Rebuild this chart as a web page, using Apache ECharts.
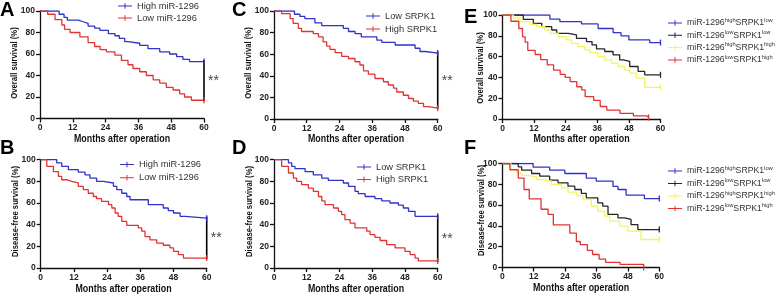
<!DOCTYPE html>
<html>
<head>
<meta charset="utf-8">
<script src="https://cdn.jsdelivr.net/npm/echarts@6/dist/echarts.min.js"></script>
<style>
html, body { margin: 0; padding: 0; background: #fff; }
#chart { width: 778px; height: 296px; }
</style>
</head>
<body>
<div id="chart"></div>
<script>
// axis ticks
const xTicks = [0, 12, 24, 36, 48, 60]
const yTicks = [0, 20, 40, 60, 80, 100]

// A: overall survival, miR-1296
const aHighT = [0, 7, 8.8, 10, 14, 15.8, 17.6, 20, 21.9, 25, 27.4, 29, 31, 32.2, 36.5, 39.5, 43.8, 47.4, 50, 52.3, 54.7, 60]
const aHighS = [100, 97, 94, 91.5, 90, 88.5, 86, 84, 82, 79, 77, 74.5, 71.5, 70, 68, 65, 62, 60, 57.5, 55, 53, 53]
const aLowT = [0, 2.8, 5.5, 8, 9, 11, 14.6, 17.6, 20, 22, 24.3, 27.4, 29.8, 32.2, 34, 36.5, 38.9, 41.4, 43.8, 46.2, 48.7, 51.1, 52.9, 55.4, 60]
const aLowS = [100, 97, 92, 87, 83, 80, 76, 70.5, 67, 64, 62, 59, 54, 50, 46.5, 43.5, 40, 36, 33, 29, 26.5, 23, 20, 17, 17]

// B: disease-free survival, miR-1296
const bHighT = [0, 5.8, 7.6, 10, 13.6, 16, 17.8, 20.2, 22.7, 26.3, 27.5, 29.3, 31.1, 32.3, 38.9, 44.3, 46.1, 48, 50.4, 52.2, 60]
const bHighS = [100, 97, 93.8, 90.8, 88.6, 86, 83, 80, 78.5, 75.4, 72.3, 69, 66, 63, 58.5, 55.4, 53, 50.8, 47.7, 46, 46]
const bLowT = [0, 2.2, 4.6, 6.4, 7.6, 9.4, 11.2, 13.6, 15.4, 17.2, 19, 20.2, 22, 24.5, 25.7, 26.9, 28, 29.3, 31.1, 35.3, 36.5, 37.7, 39.5, 41.9, 44.3, 46.7, 48, 49.8, 51.6, 60]
const bLowS = [100, 93.8, 89, 84.6, 81.5, 80, 78.5, 75.4, 72.3, 69, 66, 64, 61.5, 58.5, 55.4, 50.8, 47.7, 43, 39.4, 37, 34, 29, 26, 23, 21, 18.5, 15.4, 12.3, 9.2, 9.2]

// C: overall survival, SRPK1
const cLowT = [0, 7.5, 9.5, 11.3, 15, 17.5, 25.4, 27.3, 29.7, 32, 37.7, 39.5, 44.4, 51.7, 53.5, 55.4, 60]
const cLowS = [100, 97, 95, 93, 89, 86.5, 84, 81, 79, 76, 73, 71, 68.5, 65.5, 62.5, 61, 61]
const cHighT = [0, 2.8, 5.9, 7, 8.9, 10.1, 14.4, 16.3, 18, 19.3, 20.5, 22.4, 24.8, 27.3, 29.7, 31.5, 32.8, 34.6, 37, 40.1, 41.9, 43.8, 45, 47.4, 49.3, 51.1, 52.9, 54.8, 56.6, 60]
const cHighS = [100, 97.5, 93, 88.5, 84, 81, 79, 76, 71.5, 67.5, 64.5, 61.5, 58, 56, 53, 50, 44.5, 41.5, 37.5, 34.5, 31.5, 28.5, 25, 22, 19, 16.5, 14.5, 11.5, 10, 10]

// D: disease-free survival, SRPK1
const dLowT = [0, 5.3, 6.5, 7.7, 11.4, 14.4, 17.5, 19.9, 25.4, 27.3, 29.7, 30.9, 33.4, 37, 39.5, 42.5, 45.6, 47.4, 49.3, 51.7, 60]
const dLowS = [100, 97, 93.8, 91.7, 89, 86, 83, 81, 78.5, 75.4, 70.8, 68.6, 66, 64, 62, 60, 58, 55.4, 52.3, 47.7, 47.7]
const dHighT = [0, 2.8, 5.3, 7.1, 8.3, 10.1, 12.6, 14.4, 16.3, 17.5, 18.7, 21.8, 23.6, 24.8, 26, 27.9, 29.7, 34, 35.2, 37, 38.9, 41.3, 44.4, 48, 49.9, 51.7, 52.9, 60]
const dHighS = [100, 93.8, 87.7, 83, 80, 77, 73.8, 70.8, 66, 62, 58.5, 55.4, 52.3, 49.2, 44.6, 41.5, 37, 34, 30.8, 28.3, 25.4, 21.5, 18.5, 15.4, 12.3, 9.2, 6.5, 6.5]

// E: overall survival, combined groups
const eHLT = [0, 18, 21.8, 30, 36.3, 42, 45, 48, 55.9, 60]
const eHLS = [100, 96, 93.6, 91.4, 87, 83, 80, 76, 73.5, 73.5]
const eLLT = [0, 7.9, 11.7, 14.9, 18.7, 20.6, 25, 28.1, 31.9, 34, 35.7, 38.8, 42, 44.5, 45.8, 48.3, 51.5, 54, 60]
const eLLS = [100, 95.8, 92, 88.8, 85.6, 82.4, 80.8, 77.6, 74.4, 71.2, 67.4, 64.9, 61.7, 56.9, 55.3, 50.5, 45.7, 42.5, 42.5]
const eHHT = [0, 4.2, 6.7, 10.5, 13, 16.1, 18, 21.2, 24.3, 26.2, 28.8, 31.3, 33.2, 36.3, 38.8, 41.4, 43.9, 46.4, 48.3, 50.8, 54, 60]
const eHHS = [100, 96.8, 93.6, 91, 88.8, 85.6, 82.4, 79.2, 76, 72.8, 69.6, 66.5, 63.9, 60, 56.9, 53.7, 50.5, 47.3, 44.1, 39.3, 30.4, 30.4]
const eLHT = [0, 3.2, 6.2, 7.6, 8.6, 9.6, 12.4, 14.5, 17, 19.4, 21.9, 23.8, 25.7, 28.2, 30.1, 31.4, 34.6, 37.1, 39.6, 44.6, 49.7, 54.8, 55.5]
const eLHS = [100, 94, 87, 79, 74, 66, 62, 57, 52, 47, 43, 40, 36, 31, 28, 21.5, 18, 12, 8.5, 5.5, 3, 1.5, 1.5]

// F: disease-free survival, combined groups
const fHLT = [0, 11.8, 18.1, 23.9, 32.1, 35.9, 42.3, 44.2, 47.3, 54.3, 60]
const fHLS = [100, 96.5, 93.6, 90.4, 86, 83, 78, 75, 69.6, 66.3, 66.3]
const fLLT = [0, 6.1, 7.4, 11.2, 14.3, 18.1, 21.3, 25.1, 27.7, 30.2, 32.1, 36.5, 38.4, 40.4, 44.2, 46.7, 49.2, 51.8, 60]
const fLLS = [100, 96.8, 93.6, 90.4, 87.8, 84, 81.4, 78.2, 75, 71.2, 67, 62.2, 59, 51, 47.8, 46.2, 41.3, 36.5, 36.5]
const fHHT = [0, 3.3, 5.5, 7.4, 9.9, 13.1, 15.6, 18.8, 22.6, 25.1, 28.3, 30.8, 34, 36.5, 39.1, 41, 44.8, 48, 53, 60]
const fHHS = [100, 94.2, 91, 88.5, 87.2, 84.6, 83, 79.8, 76.6, 72.4, 69.2, 65.4, 59, 54.2, 49.4, 44.6, 39.7, 34.9, 26.9, 26.9]
const fLHT = [0, 2.9, 6.1, 8.3, 10.3, 14.8, 17.5, 19.5, 25.8, 28.3, 29.8, 32.5, 34.5, 37, 39.5, 45, 54]
const fLHS = [100, 94, 86, 75, 66, 56, 51, 41, 33, 25, 22, 16.5, 12.5, 8, 5, 3, 0]

// series names
const miNames = ['High miR-1296', 'Low miR-1296']
const srNames = ['Low SRPK1', 'High SRPK1']
const comboNames = ['miR-1296highSRPK1low', 'miR-1296lowSRPK1low', 'miR-1296highSRPK1high', 'miR-1296lowSRPK1high']

const BLUE = '#3232c8'
const RED = '#e03434'
const YELLOW = '#f4f45c'
const BLACK = '#262626'
const FONT = '"Liberation Sans", Arial, sans-serif'
const TICK = 'path://M0,0h1v6h-1z'
const LEGEND_ICON = 'path://M0,3.3h20v1.4h-20zM9.3,0h1.4v8h-1.4z'
const X_TITLE = 'Months after operation'

// xt: centre of the x title; yn: centre of the y title
const panels = [
 { letter: 'A', lx: 0, ly: 0, grid: { left: 40, top: 11, width: 164, height: 107.5 }, yName: 'Overall survival (%)',
  yn: [14.5, 63], xt: [122, 139.5],
  lines: [[miNames[0], aHighT, aHighS, BLUE], [miNames[1], aLowT, aLowS, RED]], sig: true, legend: { left: 118, top: 0, gap: 0 } },
 { letter: 'C', lx: 232, ly: 0, grid: { left: 274, top: 11, width: 163.7, height: 108 }, yName: 'Overall survival (%)',
  yn: [248.5, 63], xt: [356, 139.5],
  lines: [[srNames[0], cLowT, cLowS, BLUE], [srNames[1], cHighT, cHighS, RED]], sig: true, legend: { left: 366, top: 10, gap: 1 } },
 { letter: 'E', lx: 464, ly: 7, grid: { left: 502.5, top: 15, width: 158, height: 104 }, yName: 'Overall survival (%)',
  yn: [480, 68], xt: [581.5, 139],
  lines: [[comboNames[0], eHLT, eHLS, BLUE], [comboNames[1], eLLT, eLLS, BLACK], [comboNames[2], eHHT, eHHS, YELLOW], [comboNames[3], eLHT, eLHS, RED]],
  sig: false, legend: { left: 668, top: 17, gap: 0.3 } },
 { letter: 'B', lx: 0, ly: 138, grid: { left: 40.7, top: 159.7, width: 166, height: 108.3 }, yName: 'Disease-free survival (%)',
  yn: [15.5, 211.5], xt: [123.5, 289.5],
  lines: [[miNames[0], bHighT, bHighS, BLUE], [miNames[1], bLowT, bLowS, RED]], sig: true, legend: { left: 120, top: 158.5, gap: 1.3 } },
 { letter: 'D', lx: 232, ly: 138, grid: { left: 274, top: 159.7, width: 163.7, height: 108.3 }, yName: 'Disease-free survival (%)',
  yn: [249, 211.5], xt: [356, 289.5],
  lines: [[srNames[0], dLowT, dLowS, BLUE], [srNames[1], dHighT, dHighS, RED]], sig: true, legend: { left: 357, top: 161, gap: 0.4 } },
 { letter: 'F', lx: 464, ly: 138, grid: { left: 502.3, top: 163.5, width: 157, height: 104 }, yName: 'Disease-free survival (%)',
  yn: [481, 210.5], xt: [581, 288.5],
  lines: [[comboNames[0], fHLT, fHLS, BLUE], [comboNames[1], fLLT, fLLS, BLACK], [comboNames[2], fHHT, fHHS, YELLOW], [comboNames[3], fLHT, fLHS, RED]],
  sig: false, legend: { left: 668, top: 165, gap: 0.5 } }
]

const toPoints = (t, s) => t.map((x, i) => {
 if (i === t.length - 1) return { value: [x, s[i]], symbol: TICK, symbolSize: [1.3, 6] }
 return [x, s[i]]
})

const grid = [], xAxis = [], yAxis = [], series = [], legend = [], graphic = []
panels.forEach((p, i) => {
 grid.push(p.grid)
 const axisCommon = {
  gridIndex: i,
  type: 'value',
  axisLine: { show: true, onZero: false, lineStyle: { color: '#111', width: 1.3 } },
  axisTick: { show: true, length: 4, lineStyle: { color: '#111', width: 1.3 } },
  axisLabel: { fontFamily: FONT, fontWeight: 'bold', fontSize: 8.5, color: '#222', margin: 5 },
  splitLine: { show: false }
 }
 xAxis.push({ ...axisCommon, min: xTicks[0], max: xTicks[xTicks.length - 1], interval: xTicks[1] - xTicks[0] })
 yAxis.push({ ...axisCommon, min: yTicks[0], max: yTicks[yTicks.length - 1], interval: yTicks[1] - yTicks[0] })

 p.lines.forEach(([name, t, s, color]) => {
  series.push({
   name, type: 'line', step: 'end', xAxisIndex: i, yAxisIndex: i,
   data: toPoints(t, s), symbol: 'none', color,
   lineStyle: { color, width: 1.3 }, silent: true, animation: false
  })
 })

 if (p.sig) {
  const top = p.lines[0][2][p.lines[0][2].length - 1]
  const bottom = p.lines[1][2][p.lines[1][2].length - 1]
  const xEnd = xTicks[xTicks.length - 1]
  series.push({
   type: 'line', xAxisIndex: i, yAxisIndex: i, clip: false, symbol: 'none',
   data: [[xEnd, top + 1.5], [xEnd, bottom - 1]], lineStyle: { color: '#000', width: 1.6 },
   silent: true, animation: false
  })
  series.push({
   type: 'scatter', xAxisIndex: i, yAxisIndex: i, clip: false, symbolSize: 0,
   data: [[xEnd, (top + bottom) / 2]],
   label: { show: true, formatter: '**', position: 'right', distance: 4, fontFamily: FONT, fontSize: 14, color: '#111' },
   silent: true, animation: false
  })
 }

 const combo = p.lines.length > 2
 legend.push({
  orient: 'vertical', left: p.legend.left, top: p.legend.top, itemGap: p.legend.gap,
  data: p.lines.map(l => l[0]), icon: LEGEND_ICON, itemWidth: 14, itemHeight: 7,
  selectedMode: false, padding: 0,
  formatter: combo ? (n => n.replace(/^miR-1296(high|low)SRPK1(high|low)$/, 'miR-1296{sup|$1}SRPK1{sup|$2}')) : (n => n),
  textStyle: {
   fontFamily: FONT, fontSize: combo ? 8.7 : 9.3, color: '#333', lineHeight: 12,
   rich: { sup: { fontFamily: FONT, fontSize: 5.8, color: '#333', verticalAlign: 'top', lineHeight: 6 } }
  }
 })

 // panel letter and axis titles (condensed like the original figure)
 graphic.push({
  type: 'text', left: p.lx, top: p.ly,
  style: { text: p.letter, font: 'bold 20px ' + FONT, fill: '#000' }
 })
 graphic.push({
  type: 'text', x: p.xt[0], y: p.xt[1], scaleX: 0.83,
  style: { text: X_TITLE, font: 'bold 10.7px ' + FONT, fill: '#111', align: 'center', verticalAlign: 'middle' }
 })
 graphic.push({
  type: 'text', x: p.yn[0], y: p.yn[1], rotation: Math.PI / 2, scaleX: 0.81,
  style: { text: p.yName, font: 'bold 9.5px ' + FONT, fill: '#111', align: 'center', verticalAlign: 'middle' }
 })
})

const chart = echarts.init(document.getElementById('chart'))
chart.setOption({
 animation: false,
 backgroundColor: '#fff',
 grid, xAxis, yAxis, series, legend, graphic
})
</script>
</body>
</html>
